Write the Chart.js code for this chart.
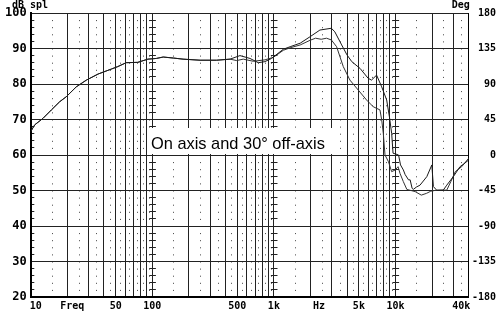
<!DOCTYPE html>
<html><head><meta charset="utf-8">
<script src="https://cdn.jsdelivr.net/npm/chart.js@4.4.0/dist/chart.umd.min.js"></script>
<style>html,body{margin:0;padding:0;background:#fff;}</style>
</head><body>
<canvas id="c" width="500" height="317"></canvas>
<script>
// ---- data ----
const freqOnAxis = [10, 10.8, 12.6, 14.8, 17.3, 19.6, 23.7, 28.7, 35.8, 46, 52, 61, 76, 92, 108, 123, 150, 179, 247, 338, 436, 526, 636, 744, 843, 956, 1196, 1360, 1646, 1980, 2390, 2970, 3170, 3610, 3990, 4370, 5110, 5960, 6350, 6990, 7700, 8460, 8910, 9300, 9550, 10000, 10600, 11000, 11600, 12000, 12800, 13200, 13700, 14000, 14900, 15900, 18100, 19900, 20500, 21800, 24700, 26400, 29900, 33900, 36500, 40000];
const dbOnAxis   = [66.6, 68.5, 70.3, 72.7, 75.0, 76.4, 79.2, 81.1, 82.8, 84.2, 84.9, 86.0, 86.1, 87.0, 87.2, 87.6, 87.3, 87.0, 86.7, 86.7, 87.0, 88.0, 87.2, 86.0, 86.3, 87.2, 89.8, 90.5, 91.5, 93.3, 95.2, 95.7, 94.7, 91.0, 88.2, 86.3, 84.4, 81.6, 81.1, 82.5, 79.2, 75.5, 70.8, 66.1, 60.5, 60.3, 60.0, 57.2, 55.8, 54.5, 53.0, 53.0, 50.6, 50.3, 51.0, 51.5, 53.9, 57.2, 51.1, 50.1, 50.1, 51.5, 53.9, 56.7, 57.5, 58.6];
const freqOffAxis = [10, 10.8, 12.6, 14.8, 17.3, 19.6, 23.7, 28.7, 35.8, 46, 52, 61, 76, 92, 108, 123, 150, 179, 247, 338, 436, 494, 560, 677, 843, 988, 1196, 1360, 1646, 1980, 2200, 2450, 2710, 2970, 3280, 3720, 4220, 4940, 5780, 6560, 7450, 7700, 7940, 8200, 8760, 9300, 9960, 10500, 10900, 11600, 12400, 14500, 16300, 18000, 19500, 21000, 24000, 26400, 28500, 31000, 35000, 40000];
const dbOffAxis   = [66.6, 68.5, 70.3, 72.7, 75.0, 76.4, 79.2, 81.1, 82.8, 84.2, 84.9, 86.0, 86.1, 87.0, 87.2, 87.6, 87.3, 87.0, 86.7, 86.7, 87.0, 86.6, 87.0, 86.4, 86.8, 87.5, 89.5, 90.2, 91.0, 92.3, 92.9, 92.6, 92.9, 92.4, 90.5, 84.9, 81.1, 78.3, 75.5, 73.6, 72.7, 69.9, 66.1, 60.0, 58.1, 55.3, 55.8, 56.7, 54.8, 52.5, 50.3, 49.7, 48.7, 49.2, 49.8, 50.0, 50.1, 50.1, 52.5, 55.3, 56.7, 59.1];

// ---- axes / ticks ----
const xLabelFreqs = [11, 22, 50, 100, 500, 1000, 2350, 5000, 10000, 34700];
const xLabels     = ['10', 'Freq', '50', '100', '500', '1k', 'Hz', '5k', '10k', '40k'];
const gridFreqs = [10,20,30,40,50,60,70,80,90,100,200,300,400,500,600,700,800,900,1000,2000,3000,4000,5000,6000,7000,8000,9000,10000,20000,30000,40000];
const dotFreqs  = [15,25,35,45,55,65,75,85,95,150,250,350,450,550,650,750,850,950,1500,2500,3500,4500,5500,6500,7500,8500,9500,15000,25000,35000];
const dbMin = 20, dbMax = 100, dbStep = 10, dbMinorStep = 2;
const degMin = -180, degMax = 180, degStep = 45;
const leftTitle = 'dB spl';
const rightTitle = 'Deg';
const noteText = 'On axis and 30° off-axis';

function pts(f, d) { return f.map((v, i) => ({x: v, y: d[i]})); }

const MONO = '"DejaVu Sans Mono", monospace';

const overlay = {
  id: 'overlay',
  beforeDatasetsDraw(chart) {
    const ctx = chart.ctx;
    ctx.save();
    ctx.fillStyle = '#fff';
    ctx.fillRect(148, 128, 186, 26);
    ctx.fillStyle = '#000';
    ctx.font = '16.4px "Liberation Sans", Arial, sans-serif';
    ctx.textAlign = 'left';
    ctx.textBaseline = 'alphabetic';
    ctx.fillText(noteText, 151, 149);
    ctx.restore();
  },
  afterDraw(chart) {
    const ctx = chart.ctx, ca = chart.chartArea;
    ctx.save();
    ctx.fillStyle = '#000';
    ctx.font = 'bold 10px ' + MONO;
    ctx.textBaseline = 'alphabetic';
    ctx.textAlign = 'left';
    ctx.fillText(leftTitle, 12, 8);
    ctx.textAlign = 'right';
    ctx.fillText(rightTitle, ca.right + 1, 8);
    ctx.restore();
  }
};

new Chart(document.getElementById('c'), {
  type: 'line',
  data: {
    datasets: [
      { label: 'On axis', data: pts(freqOnAxis, dbOnAxis), borderColor: '#1a1a1a', borderWidth: 1, pointRadius: 0, tension: 0, fill: false, xAxisID: 'x', yAxisID: 'y' },
      { label: '30° off-axis', data: pts(freqOffAxis, dbOffAxis), borderColor: '#333', borderWidth: 1, pointRadius: 0, tension: 0, fill: false, xAxisID: 'x', yAxisID: 'y' }
    ]
  },
  options: {
    responsive: false,
    animation: false,
    devicePixelRatio: 1,
    layout: { padding: { top: 13, right: 4, left: 0, bottom: 0 } },
    plugins: { legend: { display: false }, tooltip: { enabled: false } },
    scales: {
      x: {
        type: 'logarithmic', position: 'bottom', min: 10, max: 40000,
        afterBuildTicks: s => { s.ticks = xLabelFreqs.map(v => ({value: v})); },
        afterFit: s => { s.height = 20; },
        ticks: {
          autoSkip: false, maxRotation: 0, minRotation: 0, padding: 3,
          color: '#000', font: { family: MONO, size: 10, weight: 'bold' },
          callback: (v, i) => xLabels[i]
        },
        grid: { display: false, drawTicks: false },
        border: { display: true, color: '#000', width: 2 }
      },
      xGrid: {
        type: 'logarithmic', position: 'bottom', min: 10, max: 40000,
        afterBuildTicks: s => { s.ticks = gridFreqs.map(v => ({value: v})); },
        afterFit: s => { s.height = 0; },
        ticks: { display: false },
        grid: { display: true, drawTicks: false, color: '#222', lineWidth: 1 },
        border: { display: false }
      },
      xDots: {
        type: 'logarithmic', position: 'bottom', min: 10, max: 40000,
        afterBuildTicks: s => { s.ticks = dotFreqs.map(v => ({value: v})); },
        afterFit: s => { s.height = 0; },
        ticks: { display: false },
        grid: { display: true, drawTicks: false, color: '#444', lineWidth: 1 },
        border: { display: false, dash: [1, 6.1], dashOffset: 0 }
      },
      y: {
        type: 'linear', position: 'left', min: dbMin, max: dbMax,
        afterFit: s => { s.width = 30.7; },
        ticks: { stepSize: dbStep, padding: 4, color: '#000', font: { family: MONO, size: 12, weight: 'bold' } },
        grid: { display: true, drawTicks: false, color: '#222', lineWidth: 1 },
        border: { display: true, color: '#000', width: 2 }
      },
      yMinor: {
        type: 'linear', position: 'left', min: dbMin, max: dbMax,
        afterFit: s => { s.width = 0; },
        ticks: { stepSize: dbMinorStep, display: false },
        grid: { display: true, drawTicks: false, color: '#222', lineWidth: 1 },
        border: { display: false, dash: [6.6, 115], dashOffset: 3.3 }
      },
      y2: {
        type: 'linear', position: 'right', min: degMin, max: degMax,
        afterFit: s => { s.width = 27.3; },
        ticks: { stepSize: degStep, padding: 4, crossAlign: 'far', color: '#000', font: { family: MONO, size: 10, weight: 'bold' } },
        grid: { display: false, drawTicks: false },
        border: { display: true, color: '#000', width: 1 }
      }
    }
  },
  plugins: [overlay]
});
</script>
</body></html>
